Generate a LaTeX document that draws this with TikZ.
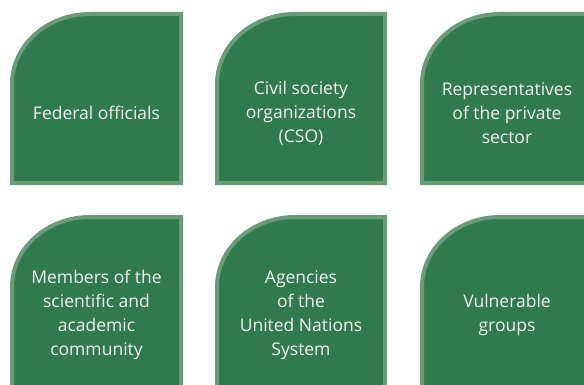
\documentclass[tikz,border=0pt]{standalone}
\usepackage{fontspec}
\setmainfont{Open Sans}
\definecolor{boxgreen}{RGB}{48,122,78}
\definecolor{rimgreen}{RGB}{106,156,122}
\definecolor{boxtext}{RGB}{240,242,236}

\tikzset{
  greenbox/.style={fill=boxgreen, draw=rimgreen, line width=4pt},
  boxlabel/.style={text=boxtext, align=center, font=\fontsize{17.5}{24}\selectfont}
}

\begin{document}
\begin{tikzpicture}[x=1pt, y=1pt]
	\useasboundingbox (0,0) rectangle (584,384);
	\clip (0,0) rectangle (584,384);
	% top row
	\draw[greenbox] (12,201)--(12,300) arc[start angle=180, end angle=90, x radius=78, y radius=70]--(181,370)--(181,201)--cycle;
	\draw[greenbox] (217,201)--(217,300) arc[start angle=180, end angle=90, x radius=78, y radius=70]--(385,370)--(385,201)--cycle;
	\draw[greenbox] (422,201)--(422,300) arc[start angle=180, end angle=90, x radius=78, y radius=70]--(600,370)--(600,201)--cycle;
	% bottom row
	\draw[greenbox] (12,-10)--(12,97) arc[start angle=180, end angle=90, x radius=78, y radius=70]--(181,167)--(181,-10)--cycle;
	\draw[greenbox] (217,-10)--(217,97) arc[start angle=180, end angle=90, x radius=78, y radius=70]--(385,167)--(385,-10)--cycle;
	\draw[greenbox] (422,-10)--(422,97) arc[start angle=180, end angle=90, x radius=78, y radius=70]--(600,167)--(600,-10)--cycle;
	\node[boxlabel] (federal) at (96.5,271) {Federal officials};
	\node[boxlabel] (cso) at (301,271) {Civil society\\organizations\\(CSO)};
	\node[boxlabel] (private) at (507,271) {Representatives\\of the private\\sector};
	\node[boxlabel] (academic) at (96.5,69) {Members of the\\scientific and\\academic\\community};
	\node[boxlabel] (agencies) at (301,69) {Agencies\\of the\\United Nations\\System};
	\node[boxlabel] (vulnerable) at (507,69) {Vulnerable\\groups};
\end{tikzpicture}
\end{document}
